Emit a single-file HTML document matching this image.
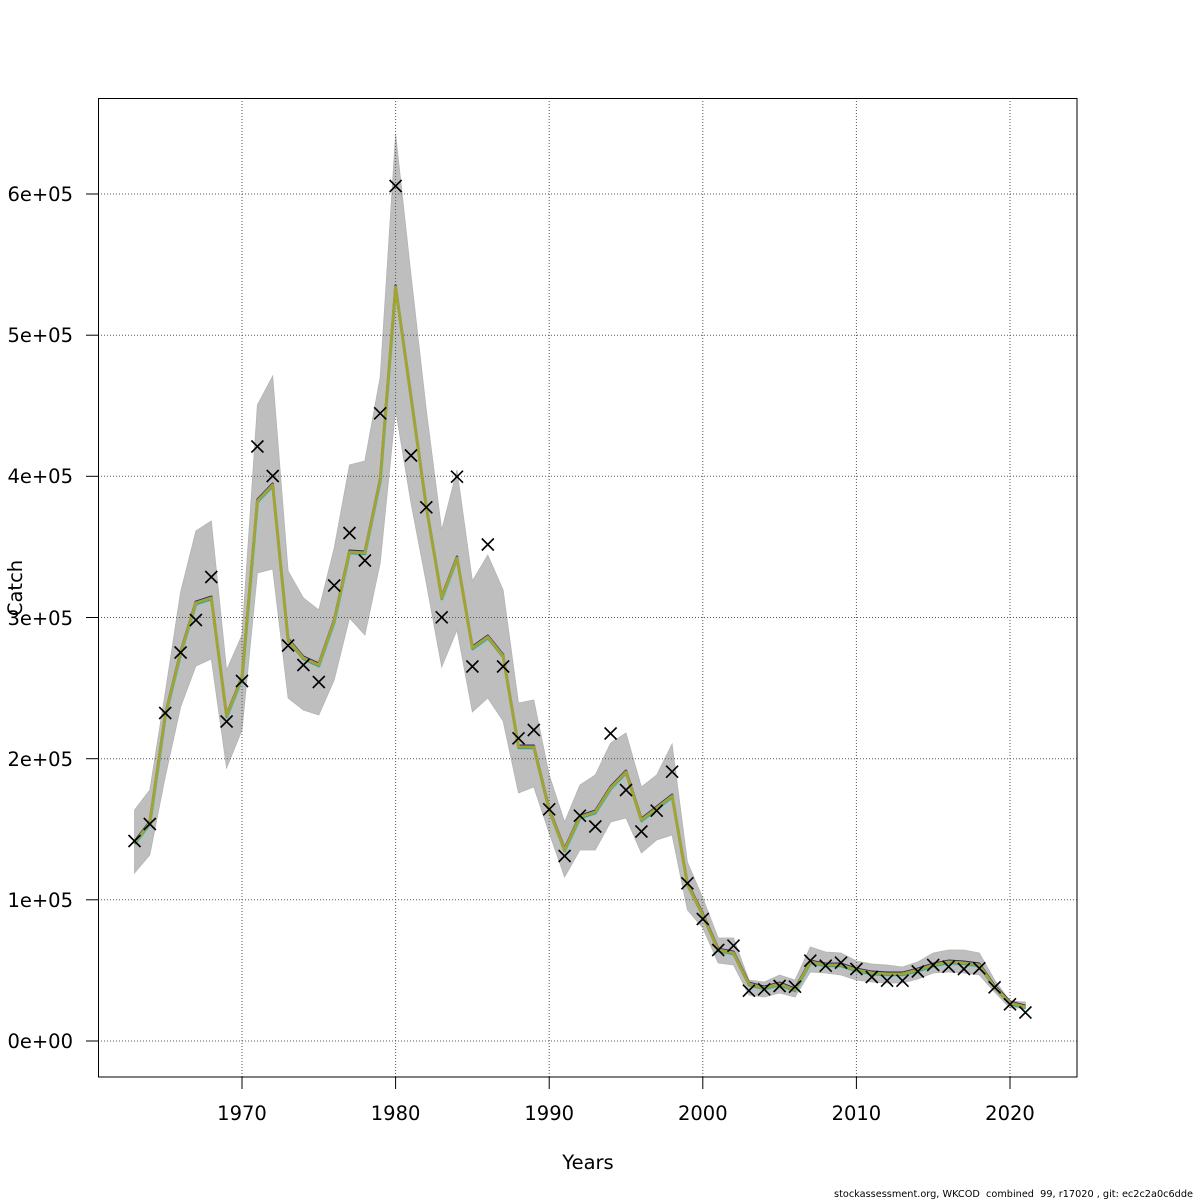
<!DOCTYPE html>
<html><head><meta charset="utf-8"><style>
html,body{margin:0;padding:0;background:#fff;}
svg{display:block;}
text{font-family:"DejaVu Sans","Liberation Sans",sans-serif;fill:#000;}
</style></head><body>
<svg width="1200" height="1200" viewBox="0 0 1200 1200" xmlns="http://www.w3.org/2000/svg">
<rect x="0" y="0" width="1200" height="1200" fill="#fff"/>
<!-- band -->
<polygon fill="#bebebe" stroke="#b4b4b4" stroke-width="0.8" points="134.5,810 149.8,790 165.2,693 180.6,592 195.9,531 211.3,521 226.6,670 242,635 257.4,405 272.7,376 288.1,571 303.4,598 318.8,610 334.2,548 349.5,465 364.9,461 380.2,377 395.6,134 411,275 426.3,410 441.7,530 457,470 472.4,581 487.8,555 503.1,590 518.5,703 533.8,700 549.2,775 564.6,822 579.9,785 595.3,775 610.6,743 626,733 641.4,787 656.7,775 672.1,744 687.4,862 702.8,898 718.2,938 733.5,938 748.9,980 764.2,982 779.6,975 795,980 810.3,947 825.7,952 841,953 856.4,961 871.8,964 887.1,965 902.5,967 917.8,962 933.2,953 948.6,950 963.9,950 979.3,953 994.6,980 1010,1001 1025.4,1002 1025.4,1008 1010,1008 994.6,992 979.3,975 963.9,973 948.6,972 933.2,973 917.8,979 902.5,983 887.1,983 871.8,982 856.4,980 841,975 825.7,973 810.3,972 795,997 779.6,993 764.2,997 748.9,995 733.5,965 718.2,963 702.8,928 687.4,910 672.1,835 656.7,840 641.4,853 626,818 610.6,822 595.3,850 579.9,850 564.6,877 549.2,833 533.8,787 518.5,793 503.1,721 487.8,698 472.4,712 457,630 441.7,667 426.3,583 411,503 395.6,410 380.2,563 364.9,635 349.5,618 334.2,680 318.8,715 303.4,710 288.1,698 272.7,569 257.4,573 242,730 226.6,768 211.3,659 195.9,666 180.6,707 165.2,777 149.8,855 134.5,873"/>
<!-- grid -->
<g stroke="#555" stroke-width="1" stroke-dasharray="1 2" fill="none">
<line x1="242" y1="98" x2="242" y2="1077"/>
<line x1="395.6" y1="98" x2="395.6" y2="1077"/>
<line x1="549.2" y1="98" x2="549.2" y2="1077"/>
<line x1="702.8" y1="98" x2="702.8" y2="1077"/>
<line x1="856.4" y1="98" x2="856.4" y2="1077"/>
<line x1="1010" y1="98" x2="1010" y2="1077"/>
<line x1="98" y1="1041" x2="1077" y2="1041"/>
<line x1="98" y1="899.8" x2="1077" y2="899.8"/>
<line x1="98" y1="758.7" x2="1077" y2="758.7"/>
<line x1="98" y1="617.5" x2="1077" y2="617.5"/>
<line x1="98" y1="476.3" x2="1077" y2="476.3"/>
<line x1="98" y1="335.2" x2="1077" y2="335.2"/>
<line x1="98" y1="194" x2="1077" y2="194"/>
</g>
<!-- lines -->
<g fill="none" stroke-linejoin="round">
<polyline stroke="#2b1b7a" stroke-width="2.5" transform="translate(0,-1.2)" points="134.5,843 149.8,823 165.2,716 180.6,653 195.9,603 211.3,598 226.6,716 242,678 257.4,501 272.7,485 288.1,640 303.4,658 318.8,665 334.2,621 349.5,552 364.9,553 380.2,480 395.6,287 411,397 426.3,507 441.7,598 457,558 472.4,648 487.8,637 503.1,656 518.5,747 533.8,747 549.2,810 564.6,850 579.9,817 595.3,812 610.6,788 626,772 641.4,820 656.7,808 672.1,796 687.4,884 702.8,915 718.2,950 733.5,953 748.9,984 764.2,988 779.6,984 795,990 810.3,962 825.7,965 841,965 856.4,970 871.8,973 887.1,974 902.5,974 917.8,970 933.2,965 948.6,962 963.9,963 979.3,965 994.6,987 1010,1003 1025.4,1007"/>
<polyline stroke="#3b6fc9" stroke-width="2" transform="translate(0,-0.5)" points="134.5,843 149.8,823 165.2,716 180.6,653 195.9,603 211.3,598 226.6,716 242,678 257.4,501 272.7,485 288.1,640 303.4,658 318.8,665 334.2,621 349.5,552 364.9,553 380.2,480 395.6,287 411,397 426.3,507 441.7,598 457,558 472.4,648 487.8,637 503.1,656 518.5,747 533.8,747 549.2,810 564.6,850 579.9,817 595.3,812 610.6,788 626,772 641.4,820 656.7,808 672.1,796 687.4,884 702.8,915 718.2,950 733.5,953 748.9,984 764.2,988 779.6,984 795,990 810.3,962 825.7,965 841,965 856.4,970 871.8,973 887.1,974 902.5,974 917.8,970 933.2,965 948.6,962 963.9,963 979.3,965 994.6,987 1010,1003 1025.4,1007"/>
<polyline stroke="#62cbe0" stroke-width="2.5" transform="translate(0.5,1.5)" points="134.5,843 149.8,823 165.2,716 180.6,653 195.9,603 211.3,598 226.6,716 242,678 257.4,501 272.7,485 288.1,640 303.4,658 318.8,665 334.2,621 349.5,552 364.9,553 380.2,480 395.6,287 411,397 426.3,507 441.7,598 457,558 472.4,648 487.8,637 503.1,656 518.5,747 533.8,747 549.2,810 564.6,850 579.9,817 595.3,812 610.6,788 626,772 641.4,820 656.7,808 672.1,796 687.4,884 702.8,915 718.2,950 733.5,953 748.9,984 764.2,988 779.6,984 795,990 810.3,962 825.7,965 841,965 856.4,970 871.8,973 887.1,974 902.5,974 917.8,970 933.2,965 948.6,962 963.9,963 979.3,965 994.6,987 1010,1003 1025.4,1007"/>
<polyline stroke="#1f9a55" stroke-width="2.5" transform="translate(0,0.8)" points="134.5,843 149.8,823 165.2,716 180.6,653 195.9,603 211.3,598 226.6,716 242,678 257.4,501 272.7,485 288.1,640 303.4,658 318.8,665 334.2,621 349.5,552 364.9,553 380.2,480 395.6,287 411,397 426.3,507 441.7,598 457,558 472.4,648 487.8,637 503.1,656 518.5,747 533.8,747 549.2,810 564.6,850 579.9,817 595.3,812 610.6,788 626,772 641.4,820 656.7,808 672.1,796 687.4,884 702.8,915 718.2,950 733.5,953 748.9,984 764.2,988 779.6,984 795,990 810.3,962 825.7,965 841,965 856.4,970 871.8,973 887.1,974 902.5,974 917.8,970 933.2,965 948.6,962 963.9,963 979.3,965 994.6,987 1010,1003 1025.4,1007"/>
<polyline stroke="#a3a335" stroke-width="3" points="134.5,843 149.8,823 165.2,716 180.6,653 195.9,603 211.3,598 226.6,716 242,678 257.4,501 272.7,485 288.1,640 303.4,658 318.8,665 334.2,621 349.5,552 364.9,553 380.2,480 395.6,287 411,397 426.3,507 441.7,598 457,558 472.4,648 487.8,637 503.1,656 518.5,747 533.8,747 549.2,810 564.6,850 579.9,817 595.3,812 610.6,788 626,772 641.4,820 656.7,808 672.1,796 687.4,884 702.8,915 718.2,950 733.5,953 748.9,984 764.2,988 779.6,984 795,990 810.3,962 825.7,965 841,965 856.4,970 871.8,973 887.1,974 902.5,974 917.8,970 933.2,965 948.6,962 963.9,963 979.3,965 994.6,987 1010,1003 1025.4,1007"/>
</g>
<!-- markers -->
<defs><path id="mk" d="M-6,-6L6,6M6,-6L-6,6" stroke="#000" stroke-width="1.6" fill="none"/></defs>
<g>
<use href="#mk" x="134.5" y="841"/><use href="#mk" x="149.8" y="824"/><use href="#mk" x="165.2" y="713"/><use href="#mk" x="180.6" y="652.5"/><use href="#mk" x="195.9" y="620"/><use href="#mk" x="211.3" y="577"/><use href="#mk" x="226.6" y="721.5"/><use href="#mk" x="242" y="681"/><use href="#mk" x="257.4" y="446.5"/><use href="#mk" x="272.7" y="476"/><use href="#mk" x="288.1" y="645.5"/><use href="#mk" x="303.4" y="665"/><use href="#mk" x="318.8" y="682"/><use href="#mk" x="334.2" y="585.5"/><use href="#mk" x="349.5" y="533"/><use href="#mk" x="364.9" y="560.5"/><use href="#mk" x="380.2" y="413.3"/><use href="#mk" x="395.6" y="186"/><use href="#mk" x="411" y="455.5"/><use href="#mk" x="426.3" y="507.3"/><use href="#mk" x="441.7" y="617.3"/><use href="#mk" x="457" y="476.7"/><use href="#mk" x="472.4" y="666.5"/><use href="#mk" x="487.8" y="544.5"/><use href="#mk" x="503.1" y="666.5"/><use href="#mk" x="518.5" y="738.3"/><use href="#mk" x="533.8" y="730"/><use href="#mk" x="549.2" y="809.3"/><use href="#mk" x="564.6" y="856"/><use href="#mk" x="579.9" y="815.7"/><use href="#mk" x="595.3" y="826.5"/><use href="#mk" x="610.6" y="733.5"/><use href="#mk" x="626" y="790"/><use href="#mk" x="641.4" y="831.5"/><use href="#mk" x="656.7" y="810.7"/><use href="#mk" x="672.1" y="771.7"/><use href="#mk" x="687.4" y="883.3"/><use href="#mk" x="702.8" y="919"/><use href="#mk" x="718.2" y="950"/><use href="#mk" x="733.5" y="945.7"/><use href="#mk" x="748.9" y="990.7"/><use href="#mk" x="764.2" y="989.3"/><use href="#mk" x="779.6" y="986"/><use href="#mk" x="795" y="986.7"/><use href="#mk" x="810.3" y="960.7"/><use href="#mk" x="825.7" y="965.7"/><use href="#mk" x="841" y="962.7"/><use href="#mk" x="856.4" y="969"/><use href="#mk" x="871.8" y="977"/><use href="#mk" x="887.1" y="980.7"/><use href="#mk" x="902.5" y="980.7"/><use href="#mk" x="917.8" y="971.5"/><use href="#mk" x="933.2" y="965"/><use href="#mk" x="948.6" y="966.7"/><use href="#mk" x="963.9" y="969"/><use href="#mk" x="979.3" y="968.3"/><use href="#mk" x="994.6" y="987.3"/><use href="#mk" x="1010" y="1004.3"/><use href="#mk" x="1025.4" y="1012.5"/>
</g>
<!-- box -->
<rect x="98.5" y="98.5" width="978.5" height="978.5" fill="none" stroke="#000" stroke-width="1"/>
<!-- ticks -->
<g stroke="#000" stroke-width="1">
<line x1="242" y1="1077" x2="242" y2="1089"/>
<line x1="395.6" y1="1077" x2="395.6" y2="1089"/>
<line x1="549.2" y1="1077" x2="549.2" y2="1089"/>
<line x1="702.8" y1="1077" x2="702.8" y2="1089"/>
<line x1="856.4" y1="1077" x2="856.4" y2="1089"/>
<line x1="1010" y1="1077" x2="1010" y2="1089"/>
<line x1="86" y1="1041" x2="98" y2="1041"/>
<line x1="86" y1="899.8" x2="98" y2="899.8"/>
<line x1="86" y1="758.7" x2="98" y2="758.7"/>
<line x1="86" y1="617.5" x2="98" y2="617.5"/>
<line x1="86" y1="476.3" x2="98" y2="476.3"/>
<line x1="86" y1="335.2" x2="98" y2="335.2"/>
<line x1="86" y1="194" x2="98" y2="194"/>
</g>
<g font-size="19.5" text-anchor="middle">
<text x="242" y="1120">1970</text>
<text x="395.6" y="1120">1980</text>
<text x="549.2" y="1120">1990</text>
<text x="702.8" y="1120">2000</text>
<text x="856.4" y="1120">2010</text>
<text x="1010" y="1120">2020</text>
</g>
<g font-size="19.5" text-anchor="end">
<text x="73" y="1048">0e+00</text>
<text x="73" y="907">1e+05</text>
<text x="73" y="766">2e+05</text>
<text x="73" y="625">3e+05</text>
<text x="73" y="483">4e+05</text>
<text x="73" y="342">5e+05</text>
<text x="73" y="201">6e+05</text>
</g>
<text x="588" y="1169" font-size="19.5" text-anchor="middle">Years</text>
<text transform="translate(22,588) rotate(-90)" font-size="19.5" text-anchor="middle">Catch</text>
<text x="1193" y="1197" font-size="10" text-anchor="end" textLength="359" lengthAdjust="spacingAndGlyphs" style="white-space:pre">stockassessment.org, WKCOD  combined  99, r17020 , git: ec2c2a0c6dde</text>
</svg>
</body></html>
